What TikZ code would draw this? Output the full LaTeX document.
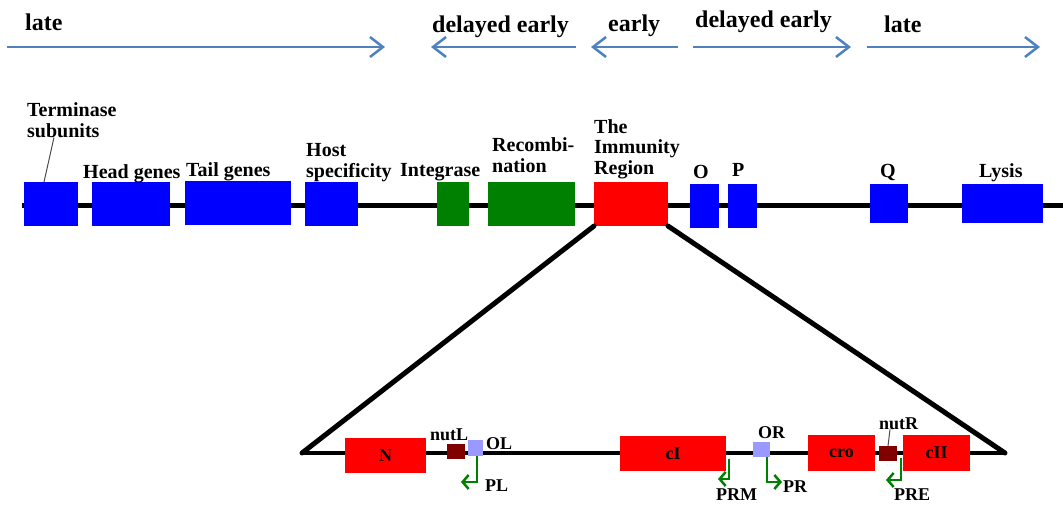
\documentclass[tikz,border=0pt]{standalone}
\usepackage{fontspec}
\setmainfont{Liberation Serif}
\usetikzlibrary{arrows.meta}
\definecolor{timeblue}{RGB}{79,129,189}
\definecolor{geneblue}{RGB}{0,0,255}
\definecolor{genegreen}{RGB}{0,128,0}
\definecolor{genered}{RGB}{255,0,0}
\definecolor{nutred}{RGB}{128,0,0}
\definecolor{oplight}{RGB}{153,153,255}
\begin{document}
\begin{tikzpicture}[x=1pt,y=-1pt]
\tikzstyle{box} = [inner sep=0, outer sep=0, draw=none]
\tikzstyle{phase} = [anchor=base west, inner sep=0, font=\fontsize{24}{24}\selectfont\bfseries]
\tikzstyle{lab} = [anchor=base west, inner sep=0, align=left, font=\fontsize{20}{20.5}\selectfont\bfseries]
\tikzstyle{small} = [inner sep=0, font=\fontsize{18}{18}\selectfont\bfseries]
\tikzstyle{time} = [timeblue, line width=2.5pt, -{Straight Barb[length=13pt,width=20pt]}]
\tikzstyle{prom} = [genegreen, line width=2.5pt, -{Straight Barb[length=6pt,width=14pt]}]
\useasboundingbox (0,0) rectangle (1063,509);
% time arrows
\coordinate (a1) at (7,47);   \coordinate (a2) at (385,47);
\coordinate (a3) at (576,47); \coordinate (a4) at (431,47);
\coordinate (a5) at (678,47); \coordinate (a6) at (591,47);
\coordinate (a7) at (693,47); \coordinate (a8) at (851,47);
\coordinate (a9) at (867,47); \coordinate (a10) at (1040,47);
\draw [time] (a1) -- (a2);
\draw [time] (a3) -- (a4);
\draw [time] (a5) -- (a6);
\draw [time] (a7) -- (a8);
\draw [time] (a9) -- (a10);
\node [phase] (t1) at (25,30) {late};
\node [phase] (t2) at (432,32) {delayed early};
\node [phase] (t3) at (608,31) {early};
\node [phase] (t4) at (695,27) {delayed early};
\node [phase] (t5) at (884,32) {late};
% genome
\coordinate (g0) at (22,205); \coordinate (g1) at (1063,205);
\draw [line width=5pt] (g0) -- (g1);
\coordinate (l0) at (302,453); \coordinate (l1) at (1005,453);
\node [box, fill=geneblue, minimum width=54pt, minimum height=44pt] (ter) at (51,204) {};
\node [box, fill=geneblue, minimum width=78pt, minimum height=44pt] (head) at (131,204) {};
\node [box, fill=geneblue, minimum width=106pt, minimum height=44pt] (tail) at (238,203) {};
\node [box, fill=geneblue, minimum width=53pt, minimum height=44pt] (host) at (331.5,204) {};
\node [box, fill=genegreen, minimum width=32pt, minimum height=44pt] (int) at (453,204) {};
\node [box, fill=genegreen, minimum width=87pt, minimum height=44pt] (rec) at (531.5,204) {};
\node [box, fill=genered, minimum width=74pt, minimum height=44pt] (imm) at (631,204) {};
\node [box, fill=geneblue, minimum width=29pt, minimum height=44pt] (o) at (704.5,206) {};
\node [box, fill=geneblue, minimum width=29pt, minimum height=44pt] (p) at (742.5,206) {};
\node [box, fill=geneblue, minimum width=38pt, minimum height=39pt] (q) at (889,203.5) {};
\node [box, fill=geneblue, minimum width=81pt, minimum height=39pt] (lys) at (1002.5,203.5) {};
\node [lab] (terlab) at (27,137) {Terminase\\subunits};
\draw [black!70, line width=1pt] ([xshift=27pt]terlab.south west) -- ([xshift=-7pt]ter.north);
\node [lab] (headlab) at (83,178) {Head genes};
\node [lab] (taillab) at (186,176) {Tail genes};
\node [lab] (hostlab) at (306,177) {Host\\specificity};
\node [lab] (intlab) at (400,176) {Integrase};
\node [lab] (reclab) at (492,172) {Recombi-\\nation};
\node [lab] (immlab) at (594,174) {The\\Immunity\\Region};
\node [lab] (olab) at (693,178) {O};
\node [lab] (plab) at (732,176) {P};
\node [lab] (qlab) at (880,177) {Q};
\node [lab] (lyslab) at (979,177) {Lysis};
% immunity region
\draw [line width=5pt, line cap=round] (imm.south west) -- (l0);
\draw [line width=5pt, line cap=round] (imm.south east) -- (l1);
\draw [line width=4pt] (l0) -- (l1);
\node [box, fill=genered, minimum width=81pt, minimum height=35pt, small] (n) at (385.5,455.5) {N};
\node [box, fill=nutred, minimum width=18pt, minimum height=15pt] (nutl) at (456,451.5) {};
\node [box, fill=oplight, minimum width=15pt, minimum height=16pt] (ol) at (475.5,448) {};
\node [box, fill=genered, minimum width=106pt, minimum height=35pt, small] (ci) at (673,453.5) {cI};
\node [box, fill=oplight, minimum width=17pt, minimum height=15pt] (or) at (761.5,449.5) {};
\node [box, fill=genered, minimum width=67pt, minimum height=36pt, small] (cro) at (841.5,453) {cro};
\node [box, fill=nutred, minimum width=18pt, minimum height=15pt] (nutr) at (888,453.5) {};
\node [box, fill=genered, minimum width=67pt, minimum height=36pt, small] (cii) at (936.5,453) {cII};
\node [small, anchor=base west] (nutllab) at (430,440) {nutL};
\node [small, anchor=base west] (ollab) at (486,449) {OL};
\node [small, anchor=base west] (orlab) at (758,438) {OR};
\node [small, anchor=base west] (nutrlab) at (879,429) {nutR};
\draw [black!70, line width=1pt] ([xshift=11pt]nutrlab.south west) -- (nutr.north);
% promoters
\coordinate (pl) at (461,482);
\coordinate (prm) at (718,479);
\coordinate (pr) at (782,482);
\coordinate (pre) at (886,480);
\draw [prom] ([xshift=1.5pt]ol.south) |- (pl);
\draw [prom] ([xshift=3pt,yshift=-5pt]ci.east) |- (prm);
\draw [prom] ([xshift=-3pt]or.south east) |- (pr);
\draw [prom] ([xshift=-2pt,yshift=-5pt]cii.west) |- (pre);
\node [small, anchor=base west] (pllab) at (485,491) {PL};
\node [small, anchor=base west] (prmlab) at (716,500) {PRM};
\node [small, anchor=base west] (prlab) at (783,492) {PR};
\node [small, anchor=base west] (prelab) at (894,500) {PRE};
\end{tikzpicture}
\end{document}
